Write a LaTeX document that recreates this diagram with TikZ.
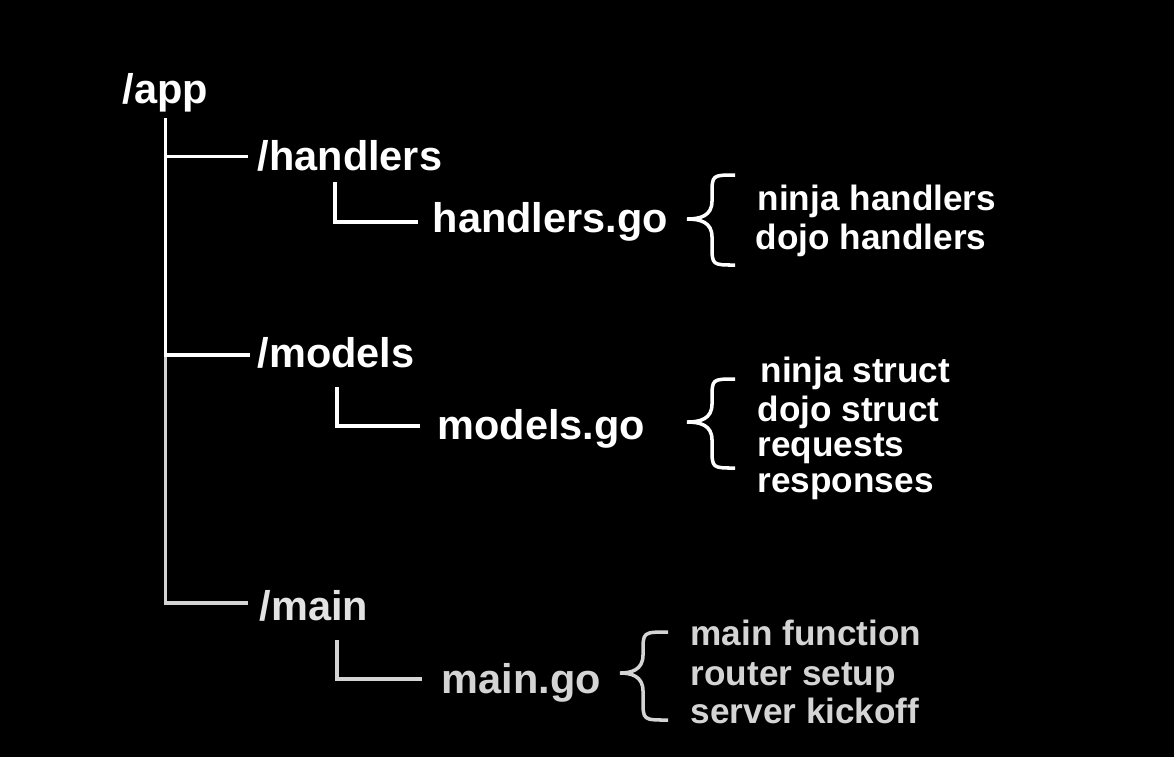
\documentclass[tikz,border=0pt]{standalone}
\usepackage{fontspec}
\setmainfont{Liberation Sans}
\definecolor{dimfg}{RGB}{212,212,212}
\definecolor{dimtitle}{RGB}{226,226,226}
\tikzset{
  tree/.style={line width=1pt, draw=white},
  dir/.style={inner sep=0pt, anchor=base west, text=white, font=\fontsize{11.8}{14}\selectfont\bfseries},
  item/.style={inner sep=0pt, anchor=base west, text=white, font=\fontsize{10}{12}\selectfont\bfseries},
}
\begin{document}
\begin{tikzpicture}[x=0.01cm,y=-0.01cm]
\useasboundingbox (0,0) rectangle (1174,756);
\fill[black] (-5,-5) rectangle (1179,761);
\node[dir] (app) at (122,103) {/app};
\node[dir] (handlers) at (257,170) {/handlers};
\node[dir] (hgo) at (432,232) {handlers.go};
\node[dir] (models) at (257,367) {/models};
\node[dir] (mgo) at (437,439) {models.go};
\node[dir,text=dimtitle] (main) at (259,620) {/main};
\node[dir,text=dimfg] (maingo) at (441,693) {main.go};
\coordinate (trunk) at ([yshift=-0.06cm]app.south);
% trunk and first level
\draw[tree,draw=dimfg] (trunk) |- ([xshift=-0.11cm,yshift=0.17cm]main.base west);
\draw[tree] (trunk) |- ([xshift=-0.09cm,yshift=0.135cm]handlers.base west);
\draw[tree] (trunk) |- ([xshift=-0.07cm,yshift=0.12cm]models.base west);
% second level
\draw[tree] ([xshift=0.78cm,yshift=-0.12cm]handlers.base west) |- ([xshift=-0.14cm,yshift=0.10cm]hgo.base west);
\draw[tree] ([xshift=0.80cm,yshift=-0.20cm]models.base west) |- ([xshift=-0.17cm,yshift=0.13cm]mgo.base west);
\draw[tree,draw=dimfg] ([xshift=0.78cm,yshift=-0.20cm]main.base west) |- ([xshift=-0.19cm,yshift=0.14cm]maingo.base west);
% braces
\draw[tree] (735,175) .. controls (712,175) .. (712,195) -- (712,201) .. controls (712,216) and (700,219) .. (687,219) .. controls (700,219) and (712,222) .. (712,237) -- (712,245) .. controls (712,265) .. (735,265);
\draw[tree] (735,379) .. controls (712,379) .. (712,399) -- (712,404) .. controls (712,419) and (700,422) .. (687,422) .. controls (700,422) and (712,425) .. (712,440) -- (712,448) .. controls (712,468) .. (735,468);
\draw[tree,draw=dimfg] (668,632) .. controls (643,632) .. (643,652) -- (643,655) .. controls (643,670) and (631,673) .. (620,673) .. controls (631,673) and (643,676) .. (643,691) -- (643,700) .. controls (643,720) .. (668,720);
% contents
\foreach \n/\x/\y/\t in {h1/757/210/ninja handlers, h2/755/249/dojo handlers,
  m1/760/382/ninja struct, m2/757/421/dojo struct, m3/757/456/requests, m4/757/492/responses}
  \node[item] (\n) at (\x,\y) {\t};
\foreach \n/\x/\y/\t in {g1/690/645/main function, g2/690/685/router setup, g3/690/723/server kickoff}
  \node[item,text=dimfg] (\n) at (\x,\y) {\t};
\end{tikzpicture}
\end{document}
